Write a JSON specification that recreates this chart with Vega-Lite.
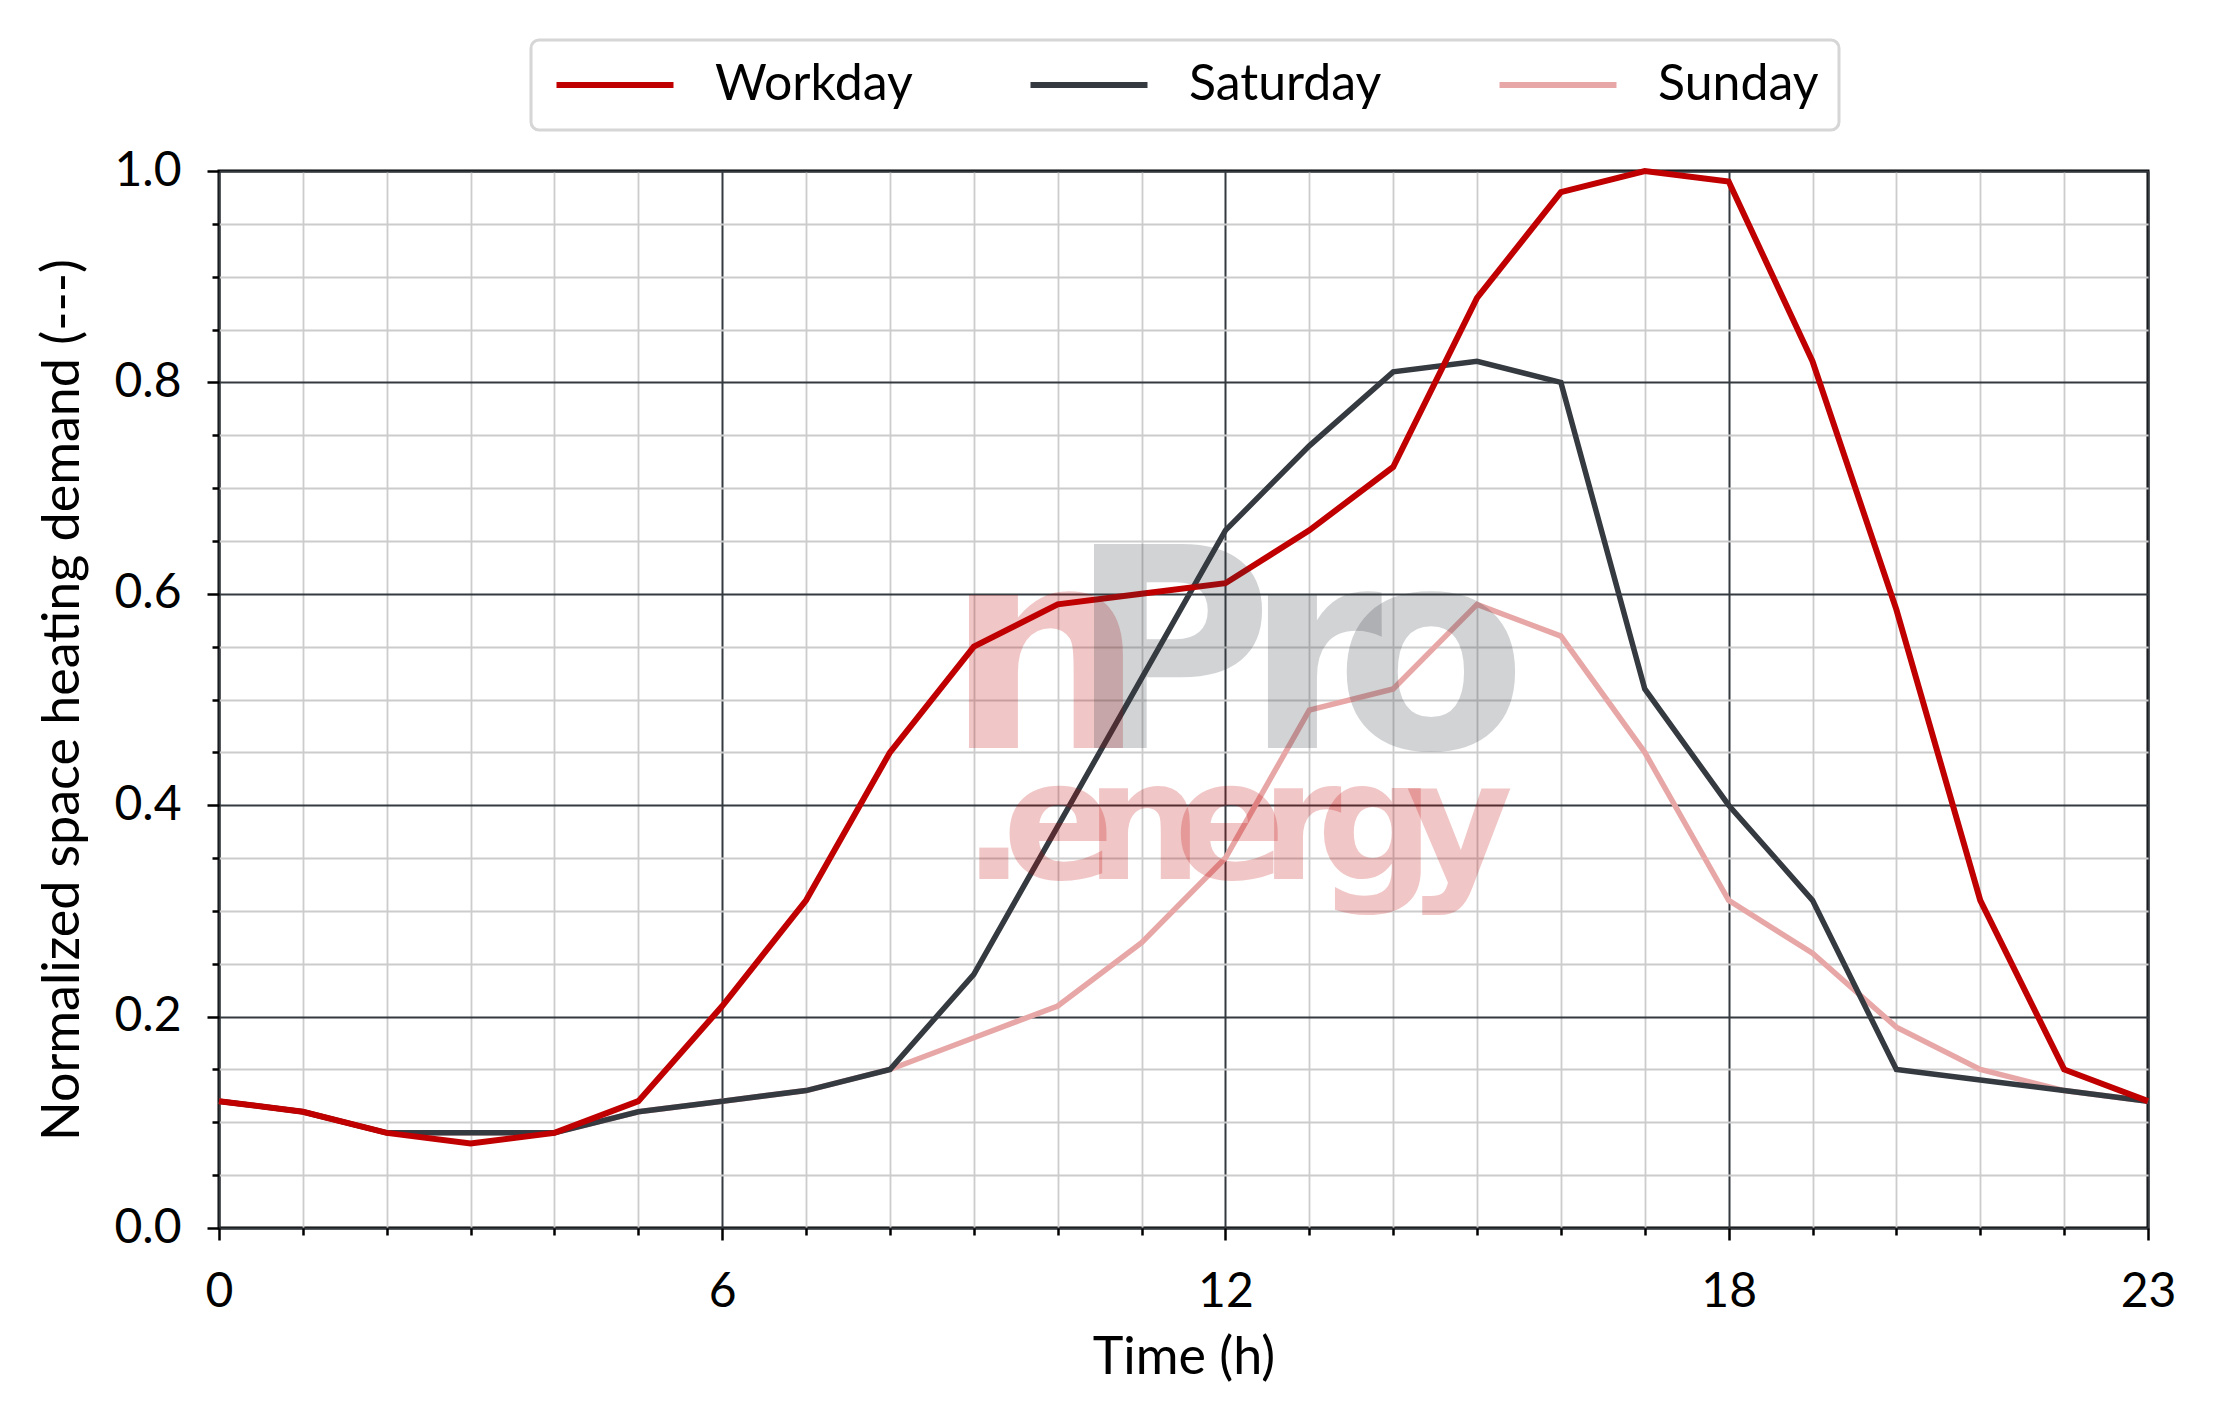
{
  "$schema": "https://vega.github.io/schema/vega-lite/v6.json",
  "width": 1929,
  "height": 1057,
  "autosize": {"type": "none"},
  "padding": {"left": 219, "top": 171, "right": 68, "bottom": 196},
  "background": "white",
  "config": {
    "font": "Lato",
    "view": {"stroke": "black", "strokeWidth": 3},
    "legend": {
      "orient": "none",
      "legendX": 312,
      "legendY": -131,
      "direction": "horizontal",
      "symbolType": "M-1,0H5",
      "symbolSize": 1521,
      "symbolStrokeWidth": 6,
      "labelFontSize": 50,
      "labelFont": "Lato",
      "labelColor": "black",
      "labelLimit": 600,
      "labelOffset": 114,
      "columnPadding": 105,
      "padding": 20,
      "strokeColor": "#d6d6d6",
      "strokeWidth": 3,
      "cornerRadius": 8,
      "fillColor": "white"
    }
  },
  "datasets": {
    "demand": [
      {"hour": 0, "value": 0.12, "series": "Workday"},
      {"hour": 1, "value": 0.11, "series": "Workday"},
      {"hour": 2, "value": 0.09, "series": "Workday"},
      {"hour": 3, "value": 0.08, "series": "Workday"},
      {"hour": 4, "value": 0.09, "series": "Workday"},
      {"hour": 5, "value": 0.12, "series": "Workday"},
      {"hour": 6, "value": 0.21, "series": "Workday"},
      {"hour": 7, "value": 0.31, "series": "Workday"},
      {"hour": 8, "value": 0.45, "series": "Workday"},
      {"hour": 9, "value": 0.55, "series": "Workday"},
      {"hour": 10, "value": 0.59, "series": "Workday"},
      {"hour": 11, "value": 0.60, "series": "Workday"},
      {"hour": 12, "value": 0.61, "series": "Workday"},
      {"hour": 13, "value": 0.66, "series": "Workday"},
      {"hour": 14, "value": 0.72, "series": "Workday"},
      {"hour": 15, "value": 0.88, "series": "Workday"},
      {"hour": 16, "value": 0.98, "series": "Workday"},
      {"hour": 17, "value": 1.00, "series": "Workday"},
      {"hour": 18, "value": 0.99, "series": "Workday"},
      {"hour": 19, "value": 0.82, "series": "Workday"},
      {"hour": 20, "value": 0.585, "series": "Workday"},
      {"hour": 21, "value": 0.31, "series": "Workday"},
      {"hour": 22, "value": 0.15, "series": "Workday"},
      {"hour": 23, "value": 0.12, "series": "Workday"},
      {"hour": 0, "value": 0.12, "series": "Saturday"},
      {"hour": 1, "value": 0.11, "series": "Saturday"},
      {"hour": 2, "value": 0.09, "series": "Saturday"},
      {"hour": 3, "value": 0.09, "series": "Saturday"},
      {"hour": 4, "value": 0.09, "series": "Saturday"},
      {"hour": 5, "value": 0.11, "series": "Saturday"},
      {"hour": 6, "value": 0.12, "series": "Saturday"},
      {"hour": 7, "value": 0.13, "series": "Saturday"},
      {"hour": 8, "value": 0.15, "series": "Saturday"},
      {"hour": 9, "value": 0.24, "series": "Saturday"},
      {"hour": 10, "value": 0.38, "series": "Saturday"},
      {"hour": 11, "value": 0.52, "series": "Saturday"},
      {"hour": 12, "value": 0.66, "series": "Saturday"},
      {"hour": 13, "value": 0.74, "series": "Saturday"},
      {"hour": 14, "value": 0.81, "series": "Saturday"},
      {"hour": 15, "value": 0.82, "series": "Saturday"},
      {"hour": 16, "value": 0.80, "series": "Saturday"},
      {"hour": 17, "value": 0.51, "series": "Saturday"},
      {"hour": 18, "value": 0.40, "series": "Saturday"},
      {"hour": 19, "value": 0.31, "series": "Saturday"},
      {"hour": 20, "value": 0.15, "series": "Saturday"},
      {"hour": 21, "value": 0.14, "series": "Saturday"},
      {"hour": 22, "value": 0.13, "series": "Saturday"},
      {"hour": 23, "value": 0.12, "series": "Saturday"},
      {"hour": 0, "value": 0.12, "series": "Sunday"},
      {"hour": 1, "value": 0.11, "series": "Sunday"},
      {"hour": 2, "value": 0.09, "series": "Sunday"},
      {"hour": 3, "value": 0.09, "series": "Sunday"},
      {"hour": 4, "value": 0.09, "series": "Sunday"},
      {"hour": 5, "value": 0.11, "series": "Sunday"},
      {"hour": 6, "value": 0.12, "series": "Sunday"},
      {"hour": 7, "value": 0.13, "series": "Sunday"},
      {"hour": 8, "value": 0.15, "series": "Sunday"},
      {"hour": 9, "value": 0.18, "series": "Sunday"},
      {"hour": 10, "value": 0.21, "series": "Sunday"},
      {"hour": 11, "value": 0.27, "series": "Sunday"},
      {"hour": 12, "value": 0.35, "series": "Sunday"},
      {"hour": 13, "value": 0.49, "series": "Sunday"},
      {"hour": 14, "value": 0.51, "series": "Sunday"},
      {"hour": 15, "value": 0.59, "series": "Sunday"},
      {"hour": 16, "value": 0.56, "series": "Sunday"},
      {"hour": 17, "value": 0.45, "series": "Sunday"},
      {"hour": 18, "value": 0.31, "series": "Sunday"},
      {"hour": 19, "value": 0.26, "series": "Sunday"},
      {"hour": 20, "value": 0.19, "series": "Sunday"},
      {"hour": 21, "value": 0.15, "series": "Sunday"},
      {"hour": 22, "value": 0.13, "series": "Sunday"},
      {"hour": 23, "value": 0.12, "series": "Sunday"}
    ],
    "logoBig": [
      {"hour": 9.85, "value": 0.454, "ch": "n"},
      {"hour": 11.35, "value": 0.454, "ch": "P"},
      {"hour": 13.05, "value": 0.454, "ch": "r"},
      {"hour": 14.45, "value": 0.454, "ch": "o"}
    ],
    "logoSmall": [
      {"hour": 9.24, "value": 0.33, "ch": "."},
      {"hour": 10.01, "value": 0.33, "ch": "e"},
      {"hour": 11.03, "value": 0.33, "ch": "n"},
      {"hour": 12.05, "value": 0.33, "ch": "e"},
      {"hour": 12.9, "value": 0.33, "ch": "r"},
      {"hour": 13.79, "value": 0.33, "ch": "g"},
      {"hour": 14.79, "value": 0.33, "ch": "y"}
    ]
  },
  "encoding": {
    "x": {
      "field": "hour",
      "type": "quantitative",
      "scale": {"domain": [0, 23], "nice": false, "zero": false},
      "axis": {
        "title": "Time (h)",
        "values": [0,1,2,3,4,5,6,7,8,9,10,11,12,13,14,15,16,17,18,19,20,21,22,23],
        "labelExpr": "(datum.value % 6 === 0 || datum.value === 23) ? datum.label : ''",
        "grid": true,
        "gridColor": {"condition": {"test": "datum.value % 6 === 0 || datum.value === 23", "value": "#343a40"}, "value": "#cccccc"},
        "gridWidth": {"condition": {"test": "datum.value % 6 === 0 || datum.value === 23", "value": 2}, "value": 1.8},
        "tickSize": {"condition": {"test": "datum.value % 6 === 0 || datum.value === 23", "value": 12}, "value": 7},
        "tickColor": "black",
        "tickWidth": 2.5,
        "domain": false,
        "labelFont": "Lato",
        "labelFontSize": 48,
        "labelColor": "black",
        "labelPadding": 28,
        "labelFlush": false,
        "labelOverlap": false,
        "titleFont": "Lato",
        "titleFontSize": 52,
        "titleFontWeight": "normal",
        "titleColor": "black",
        "titlePadding": 16
      }
    },
    "y": {
      "field": "value",
      "type": "quantitative",
      "scale": {"domain": [0, 1], "nice": false, "zero": true},
      "axis": {
        "title": "Normalized space heating demand (---)",
        "values": [0,0.05,0.1,0.15,0.2,0.25,0.3,0.35,0.4,0.45,0.5,0.55,0.6,0.65,0.7,0.75,0.8,0.85,0.9,0.95,1],
        "labelExpr": "abs(datum.value*5 - round(datum.value*5)) < 0.001 ? format(datum.value, '.1f') : ''",
        "grid": true,
        "gridColor": {"condition": {"test": "abs(datum.value*5 - round(datum.value*5)) < 0.001", "value": "#343a40"}, "value": "#cccccc"},
        "gridWidth": {"condition": {"test": "abs(datum.value*5 - round(datum.value*5)) < 0.001", "value": 2}, "value": 1.8},
        "tickSize": {"condition": {"test": "abs(datum.value*5 - round(datum.value*5)) < 0.001", "value": 12}, "value": 7},
        "tickColor": "black",
        "tickWidth": 2.5,
        "domain": false,
        "labelFont": "Lato",
        "labelFontSize": 48,
        "labelColor": "black",
        "labelPadding": 26,
        "labelFlush": false,
        "labelOverlap": false,
        "titleFont": "Lato",
        "titleFontSize": 52,
        "titleFontWeight": "normal",
        "titleColor": "black",
        "titlePadding": 24
      }
    }
  },
  "layer": [
    {
      "data": {"name": "demand"},
      "transform": [{"filter": "datum.series === 'Sunday'"}],
      "mark": {"type": "line", "strokeWidth": 5.5},
      "encoding": {
        "color": {"field": "series", "type": "nominal", "scale": {"domain": ["Workday", "Saturday", "Sunday"], "range": ["#c00000", "#343a40", "#e8a7a7"]}, "legend": {"title": null}}
      }
    },
    {
      "data": {"name": "demand"},
      "transform": [{"filter": "datum.series === 'Saturday'"}],
      "mark": {"type": "line", "strokeWidth": 5.5},
      "encoding": {
        "color": {"field": "series", "type": "nominal", "scale": {"domain": ["Workday", "Saturday", "Sunday"], "range": ["#c00000", "#343a40", "#e8a7a7"]}, "legend": {"title": null}}
      }
    },
    {
      "data": {"name": "demand"},
      "transform": [{"filter": "datum.series === 'Workday'"}],
      "mark": {"type": "line", "strokeWidth": 6},
      "encoding": {
        "color": {"field": "series", "type": "nominal", "scale": {"domain": ["Workday", "Saturday", "Sunday"], "range": ["#c00000", "#343a40", "#e8a7a7"]}, "legend": {"title": null}}
      }
    },
    {
      "data": {"name": "logoBig"},
      "mark": {"type": "text", "font": "DejaVu Sans", "fontWeight": "bold", "fontSize": 280, "align": "center", "baseline": "alphabetic", "opacity": 0.22},
      "encoding": {
        "text": {"field": "ch"},
        "color": {"condition": {"test": "datum.ch === 'n'", "value": "#c00000"}, "value": "#343a40"}
      }
    },
    {
      "data": {"name": "logoSmall"},
      "mark": {"type": "text", "font": "DejaVu Sans", "fontWeight": "bold", "fontSize": 165, "align": "center", "baseline": "alphabetic", "opacity": 0.22, "color": "#c00000"},
      "encoding": {
        "text": {"field": "ch"}
      }
    }
  ]
}
